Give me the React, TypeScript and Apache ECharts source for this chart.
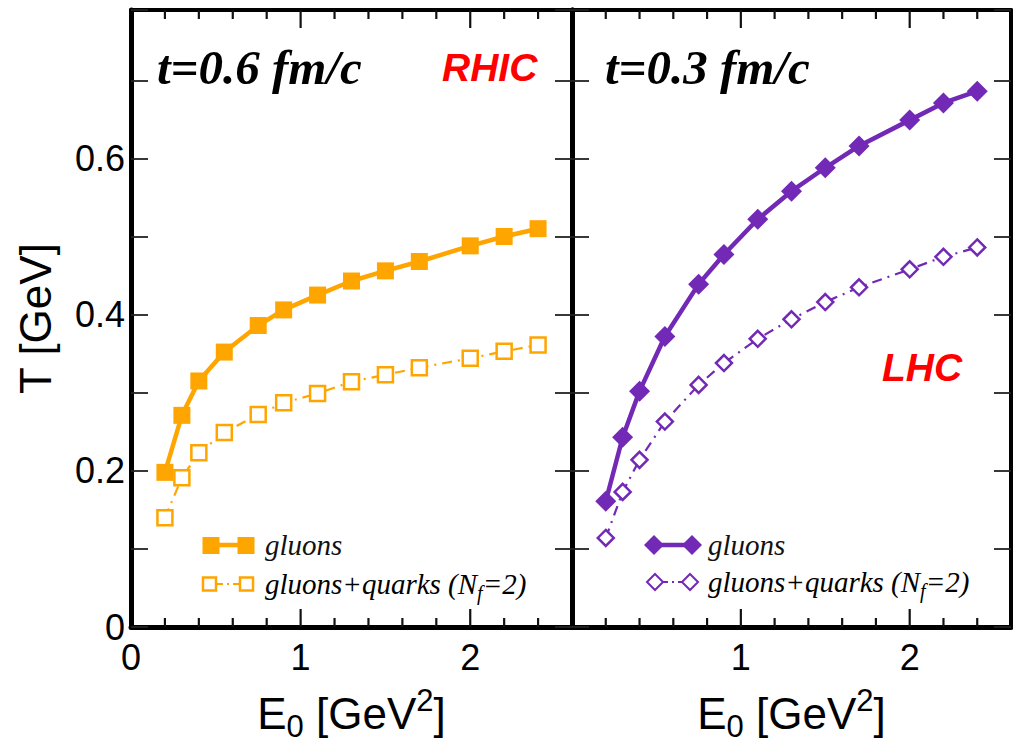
import React, { useEffect, useRef } from 'react';
import * as echarts from 'echarts';

// Initial energy density E0 [GeV^2]
const E0 = [0.2, 0.3, 0.4, 0.55, 0.75, 0.9, 1.1, 1.3, 1.5, 1.7, 2.0, 2.2, 2.4];
// Temperature T [GeV]
const rhicGluons = [0.198, 0.271, 0.315, 0.352, 0.386, 0.406, 0.425, 0.443, 0.456, 0.468, 0.488, 0.5, 0.51];
const rhicQuarks = [0.14, 0.191, 0.223, 0.249, 0.272, 0.287, 0.299, 0.314, 0.323, 0.332, 0.344, 0.353, 0.361];
const lhcGluons = [0.161, 0.243, 0.302, 0.372, 0.439, 0.477, 0.522, 0.558, 0.588, 0.616, 0.649, 0.671, 0.686];
const lhcQuarks = [0.114, 0.173, 0.214, 0.263, 0.31, 0.338, 0.369, 0.394, 0.416, 0.435, 0.458, 0.474, 0.486];

// axis ranges and tick values
const X_MIN = 0;
const X_MAX = 2.6;
const xMajorTicks = [1, 2];
const xMinorTicks = [0.2, 0.4, 0.6, 0.8, 1.2, 1.4, 1.6, 1.8, 2.2, 2.4];
const xLabelsLeft = [0, 1, 2];
const xLabelsRight = [1, 2];
const Y_MIN = 0;
const Y_MAX = 0.79;
const Y_INTERVAL = 0.1;
const yTickLabels = ['0', '0.2', '0.4', '0.6'];

const ORANGE = '#FFA500';
const PURPLE = '#7229B5';
const SANS = 'Liberation Sans, Arial, sans-serif';
const SERIF = 'Liberation Serif, Times New Roman, serif';

const pairs = (ys: number[]) => E0.map((x, i) => [x, ys[i]]);

const X_TICK_COLOR = '#111';
const X_TICK_WIDTH = 2.2;
const tickStyle = { color: '#222', width: 1.8 };

function xAxesFor(gridIndex: number, labels: number[]) {
  const common = { type: 'value', gridIndex, min: X_MIN, max: X_MAX, interval: 1, splitLine: { show: false } };
  return [
    {
      ...common,
      position: 'bottom',
      axisLine: { show: true, onZero: false, lineStyle: { color: '#000', width: 5 } },
      axisTick: { show: false },
      axisLabel: {
        show: true,
        margin: 12,
        fontSize: 36,
        fontFamily: SANS,
        color: '#000',
        customValues: labels,
      },
      name: '{n|E}{sub|0}{n| [GeV}{sup|2}{n|]}',
      nameLocation: 'middle',
      nameGap: 58,
      nameTextStyle: {
        color: '#000',
        fontFamily: SANS,
        fontSize: 44,
        rich: {
          n: { fontSize: 44, fontFamily: SANS, color: '#000' },
          sub: { fontSize: 31, fontFamily: SANS, color: '#000', padding: [26, 0, 0, 0] },
          sup: { fontSize: 31, fontFamily: SANS, color: '#000', padding: [0, 0, 26, 0] },
        },
      },
    },
    {
      ...common,
      position: 'top',
      axisLine: { show: true, onZero: false, lineStyle: { color: '#000', width: 4 } },
      axisTick: { show: false },
      axisLabel: { show: false },
    },
  ];
}

function yAxesFor(gridIndex: number, showLabels: boolean, leftWidth: number, rightWidth: number) {
  const common = {
    type: 'value',
    gridIndex,
    min: Y_MIN,
    max: Y_MAX,
    interval: Y_INTERVAL,
    splitLine: { show: false },
    axisTick: { show: true, inside: true, length: 17, lineStyle: tickStyle },
  };
  return [
    {
      ...common,
      position: 'left',
      axisLine: { show: true, onZero: false, lineStyle: { color: '#000', width: leftWidth } },
      axisLabel: showLabels
        ? {
            show: true,
            margin: 6,
            fontSize: 36,
            fontFamily: SANS,
            color: '#000',
            formatter: (v: number) => {
              const r = Math.round(v * 10);
              if (Math.abs(v * 10 - r) > 1e-6 || r % 2 !== 0) return '';
              return yTickLabels[r / 2] ?? '';
            },
          }
        : { show: false },
      name: showLabels ? 'T [GeV]' : '',
      nameLocation: 'middle',
      nameGap: 74,
      nameTextStyle: { color: '#000', fontFamily: SANS, fontSize: 44 },
    },
    {
      ...common,
      position: 'right',
      axisLine: { show: true, onZero: false, lineStyle: { color: '#000', width: rightWidth } },
      axisLabel: { show: false },
    },
  ];
}

// inward x ticks (bottom and top) placed through the x axis scale
function xTickSeries(xi: number, yi: number) {
  const data = [...xMajorTicks.map((v) => [v, 1]), ...xMinorTicks.map((v) => [v, 0])];
  return {
    type: 'custom',
    xAxisIndex: xi,
    yAxisIndex: yi,
    silent: true,
    clip: false,
    z: 6,
    data,
    encode: { x: 0 },
    renderItem: (_params: any, api: any) => {
      const v = api.value(0);
      const len = api.value(1) ? 18 : 9;
      const b = api.coord([v, Y_MIN]);
      const t = api.coord([v, Y_MAX]);
      const style = { stroke: X_TICK_COLOR, lineWidth: X_TICK_WIDTH };
      return {
        type: 'group',
        children: [
          { type: 'line', shape: { x1: b[0], y1: b[1], x2: b[0], y2: b[1] - len }, style },
          { type: 'line', shape: { x1: t[0], y1: t[1], x2: t[0], y2: t[1] + len }, style },
        ],
      };
    },
  };
}

function lineSeries(name: string, ys: number[], xi: number, yi: number, color: string, filled: boolean, symbol: string, size: number) {
  return {
    type: 'line',
    name,
    xAxisIndex: xi,
    yAxisIndex: yi,
    data: pairs(ys),
    symbol,
    symbolSize: size,
    showAllSymbol: true,
    clip: false,
    lineStyle: filled
      ? { color, width: 4.5, type: 'solid' }
      : { color, width: 2.2, type: [10, 6, 2, 6] },
    itemStyle: filled
      ? { color, borderColor: color, borderWidth: 0 }
      : { color: '#fff', borderColor: color, borderWidth: 2.5 },
    z: filled ? 4 : 3,
  };
}

function diamond(cx: number, cy: number, h: number) {
  return [
    [cx, cy - h],
    [cx + h, cy],
    [cx, cy + h],
    [cx - h, cy],
  ];
}

const legendTextStyle = { fill: '#111', font: `italic 29px ${SERIF}` };
const quarksRich = {
  a: { fontSize: 29, fontStyle: 'italic', fontFamily: SERIF, color: '#111' },
  s: { fontSize: 20, fontStyle: 'italic', fontFamily: SERIF, color: '#111', padding: [17, 0, 0, 0] },
};

function buildGraphic() {
  const g: any[] = [];
  // panel titles
  g.push({ type: 'text', x: 157, y: 67, style: { text: 't=0.6 fm/c', font: `italic bold 49px ${SERIF}`, fill: '#000', verticalAlign: 'middle' } });
  g.push({ type: 'text', x: 442, y: 67, style: { text: 'RHIC', font: `italic bold 39px ${SANS}`, fill: '#FF0000', verticalAlign: 'middle' } });
  g.push({ type: 'text', x: 605, y: 67, style: { text: 't=0.3 fm/c', font: `italic bold 49px ${SERIF}`, fill: '#000', verticalAlign: 'middle' } });
  g.push({ type: 'text', x: 882, y: 367, style: { text: 'LHC', font: `italic bold 39px ${SANS}`, fill: '#FF0000', verticalAlign: 'middle' } });

  // RHIC legend
  g.push({ type: 'line', shape: { x1: 211, y1: 545, x2: 246, y2: 545 }, style: { stroke: ORANGE, lineWidth: 4.5 } });
  g.push({ type: 'rect', shape: { x: 202.5, y: 537, width: 17, height: 17 }, style: { fill: ORANGE } });
  g.push({ type: 'rect', shape: { x: 237.5, y: 537, width: 17, height: 17 }, style: { fill: ORANGE } });
  g.push({ type: 'text', x: 265, y: 545, style: { text: 'gluons', ...legendTextStyle, verticalAlign: 'middle' } });
  g.push({ type: 'line', shape: { x1: 217, y1: 584, x2: 239, y2: 584 }, style: { stroke: ORANGE, lineWidth: 2.2, lineDash: [6, 4, 2, 4] } });
  g.push({ type: 'rect', shape: { x: 203, y: 577.5, width: 13, height: 13 }, style: { fill: '#fff', stroke: ORANGE, lineWidth: 2.5 } });
  g.push({ type: 'rect', shape: { x: 240, y: 577.5, width: 13, height: 13 }, style: { fill: '#fff', stroke: ORANGE, lineWidth: 2.5 } });
  g.push({ type: 'text', x: 265, y: 584, style: { text: '{a|gluons+quarks (N}{s|f}{a|=2)}', rich: quarksRich, verticalAlign: 'middle' } });

  // LHC legend
  g.push({ type: 'line', shape: { x1: 654, y1: 545, x2: 692, y2: 545 }, style: { stroke: PURPLE, lineWidth: 4.5 } });
  g.push({ type: 'polygon', shape: { points: diamond(654, 545, 10) }, style: { fill: PURPLE } });
  g.push({ type: 'polygon', shape: { points: diamond(692, 545, 10) }, style: { fill: PURPLE } });
  g.push({ type: 'text', x: 708, y: 545, style: { text: 'gluons', ...legendTextStyle, verticalAlign: 'middle' } });
  g.push({ type: 'line', shape: { x1: 662, y1: 582, x2: 683, y2: 582 }, style: { stroke: PURPLE, lineWidth: 2.2, lineDash: [6, 4, 2, 4] } });
  g.push({ type: 'polygon', shape: { points: diamond(655, 582, 8) }, style: { fill: '#fff', stroke: PURPLE, lineWidth: 2 } });
  g.push({ type: 'polygon', shape: { points: diamond(690, 582, 8) }, style: { fill: '#fff', stroke: PURPLE, lineWidth: 2 } });
  g.push({ type: 'text', x: 708, y: 582, style: { text: '{a|gluons+quarks (N}{s|f}{a|=2)}', rich: quarksRich, verticalAlign: 'middle' } });
  return g;
}

export default function App() {
  const ref = useRef<HTMLDivElement>(null);
  useEffect(() => {
    if (!ref.current) return;
    const chart = echarts.init(ref.current, undefined, { renderer: 'svg' });
    const option: any = {
      animation: false,
      backgroundColor: '#fff',
      grid: [
        { left: 131, top: 10, width: 441, height: 619 },
        { left: 572, top: 10, width: 439, height: 619 },
      ],
      xAxis: [
        ...xAxesFor(0, xLabelsLeft), // 0 bottom, 1 top
        ...xAxesFor(1, xLabelsRight), // 2 bottom, 3 top
      ],
      yAxis: [
        ...yAxesFor(0, true, 5, 5), // 0 left, 1 right
        ...yAxesFor(1, false, 5, 4), // 2 left, 3 right
      ],
      series: [
        xTickSeries(0, 0),
        xTickSeries(2, 2),
        lineSeries('RHIC gluons+quarks (Nf=2)', rhicQuarks, 0, 0, ORANGE, false, 'rect', 15),
        lineSeries('RHIC gluons', rhicGluons, 0, 0, ORANGE, true, 'rect', 17),
        lineSeries('LHC gluons+quarks (Nf=2)', lhcQuarks, 2, 2, PURPLE, false, 'diamond', 16),
        lineSeries('LHC gluons', lhcGluons, 2, 2, PURPLE, true, 'diamond', 21),
      ],
      graphic: buildGraphic(),
    };
    chart.setOption(option);
    return () => chart.dispose();
  }, []);
  return (
    <div
      ref={ref}
      style={{ position: 'fixed', left: 0, top: 0, width: 1013, height: 747, background: '#fff' }}
    />
  );
}
